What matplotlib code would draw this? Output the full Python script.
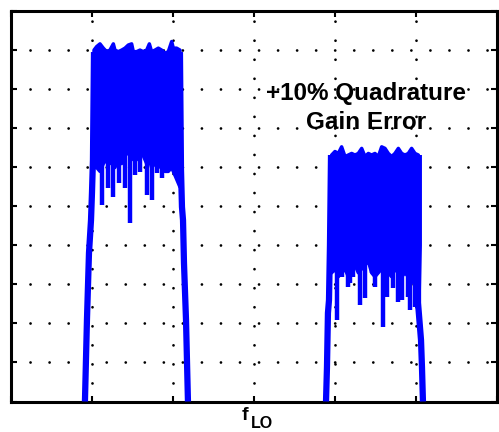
import matplotlib.pyplot as plt

plt.rcParams['font.family'] = ['Liberation Sans', 'DejaVu Sans']
plt.rcParams['lines.scale_dashes'] = False

# lower sideband (left), x in grid divisions, y in grid divisions
lsb_x = [1.026, 1.059, 1.100, 1.141, 1.182, 1.223, 1.265, 1.285, 1.326, 1.368,
         1.409, 1.450, 1.491, 1.512, 1.553, 1.594, 1.635, 1.677, 1.710, 1.738,
         1.780, 1.821, 1.862, 1.903, 1.944, 1.986, 2.006, 2.047, 2.088]
lsb_top = [9.01, 9.10, 9.17, 9.06, 8.97, 9.01, 9.17, 9.01, 8.97, 9.01,
           9.06, 9.14, 9.17, 8.97, 8.97, 9.01, 8.97, 9.01, 9.17, 8.97,
           9.01, 9.06, 9.01, 8.93, 8.97, 9.23, 9.06, 9.06, 9.01]
lsb_low = [6.0, 6.0, 5.9, 6.1, 6.2, 6.1, 6.3, 6.0, 6.2, 6.1,
           6.3, 6.4, 6.2, 6.3, 6.2, 6.4, 6.3, 6.1, 6.2, 6.0,
           6.1, 6.0, 6.1, 5.9, 5.9, 6.0, 5.9, 5.7, 5.5]
lsb_dip_x = [1.125, 1.199, 1.260, 1.335, 1.409, 1.471, 1.532, 1.594, 1.681,
             1.742, 1.804, 1.866, 1.928]
lsb_dip_y = [5.04, 5.47, 5.24, 5.60, 5.47, 4.58, 5.81, 5.88, 5.29,
             5.17, 5.86, 5.73, 5.88]
lsb_lskirt_x = [1.026, 1.013, 1.001, 0.989, 0.964, 0.939, 0.914]
lsb_lskirt_y = [8.96, 6.19, 5.35, 4.65, 3.81, 2.10, 0.0]
lsb_rskirt_x = [2.088, 2.101, 2.113, 2.126, 2.138, 2.163, 2.187]
lsb_rskirt_y = [8.96, 5.94, 4.99, 4.65, 3.55, 2.09, 0.0]

# upper sideband (right)
usb_x = [3.963, 4.004, 4.045, 4.086, 4.128, 4.169, 4.210, 4.251, 4.292, 4.334,
         4.375, 4.416, 4.457, 4.498, 4.539, 4.581, 4.622, 4.663, 4.704, 4.745,
         4.787, 4.828, 4.869, 4.910, 4.951, 4.993, 5.034]
usb_top = [6.32, 6.41, 6.36, 6.53, 6.28, 6.32, 6.36, 6.32, 6.36, 6.49,
           6.28, 6.36, 6.32, 6.36, 6.28, 6.53, 6.49, 6.36, 6.28, 6.36,
           6.49, 6.36, 6.32, 6.36, 6.49, 6.36, 6.32]
usb_low = [3.3, 3.4, 3.2, 3.3, 3.4, 3.2, 3.3, 3.5, 3.3, 3.4,
           3.5, 3.6, 3.3, 3.2, 3.3, 3.4, 3.2, 3.3, 3.2, 3.4,
           3.3, 3.2, 3.3, 3.2, 3.1, 3.0, 2.9]
usb_dip_x = [4.029, 4.090, 4.165, 4.189, 4.226, 4.313, 4.375, 4.461, 4.498,
             4.597, 4.647, 4.721, 4.782, 4.832, 4.906, 4.931, 4.993]
usb_dip_y = [2.09, 3.19, 2.94, 3.04, 3.19, 2.47, 2.65, 3.29, 2.94,
             1.91, 2.68, 2.91, 2.55, 2.60, 2.68, 2.35, 2.42]
usb_lskirt_x = [3.955, 3.942, 3.930, 3.917, 3.905, 3.893]
usb_lskirt_y = [6.32, 4.0, 2.60, 2.27, 0.88, 0.0]
usb_rskirt_x = [5.040, 5.040, 5.030, 5.030, 5.067, 5.079, 5.091]
usb_rskirt_y = [6.32, 4.0, 2.86, 2.53, 1.58, 0.88, 0.0]

blue = '#0000ff'

fig = plt.figure(figsize=(4.99, 4.32), dpi=100)
ax = fig.add_axes([0.022, 0.0706, 0.973, 0.9028])

for xs, top, low in [(lsb_x, lsb_top, lsb_low), (usb_x, usb_top, usb_low)]:
    ax.fill(xs + xs[::-1], top + low[::-1], facecolor=blue, edgecolor=blue,
            lw=2.5, joinstyle='round', zorder=3)

ax.vlines(lsb_dip_x, lsb_dip_y, 6.5, color=blue, lw=3.2, zorder=3)
ax.vlines(usb_dip_x, usb_dip_y, 3.8, color=blue, lw=3.2, zorder=3)

for xs, ys in [(lsb_lskirt_x, lsb_lskirt_y), (lsb_rskirt_x, lsb_rskirt_y),
               (usb_lskirt_x, usb_lskirt_y), (usb_rskirt_x, usb_rskirt_y)]:
    ax.plot(xs, ys, color=blue, lw=4.5, solid_capstyle='butt', zorder=3)

ax.set_xlim(0, 6)
ax.set_ylim(0, 10)
ax.set_xticks(range(7))
ax.set_yticks(range(11))
ax.tick_params(direction='in', length=4, width=1.5, top=True, right=True,
               labelbottom=False, labelleft=False)
ax.grid(True, color='black', linestyle=(0, (0.01, 13.7)), linewidth=2,
        dash_capstyle='round')
for s in ax.spines.values():
    s.set_linewidth(2.2)

ax.text(0.731, 0.773, '+10% Quadrature', transform=ax.transAxes,
        ha='center', va='baseline', fontsize=17.5, fontweight='bold', zorder=5)
ax.text(0.731, 0.699, 'Gain Error', transform=ax.transAxes,
        ha='center', va='baseline', fontsize=17.5, fontweight='bold', zorder=5)

fig.text(0.484, 0.028, 'f', ha='left', va='baseline', fontsize=14,
         fontweight='bold')
fig.text(0.502, 0.009, 'LO', ha='left', va='baseline', fontsize=11.5,
         fontweight='bold')

fig.savefig('out.png', dpi=100)
